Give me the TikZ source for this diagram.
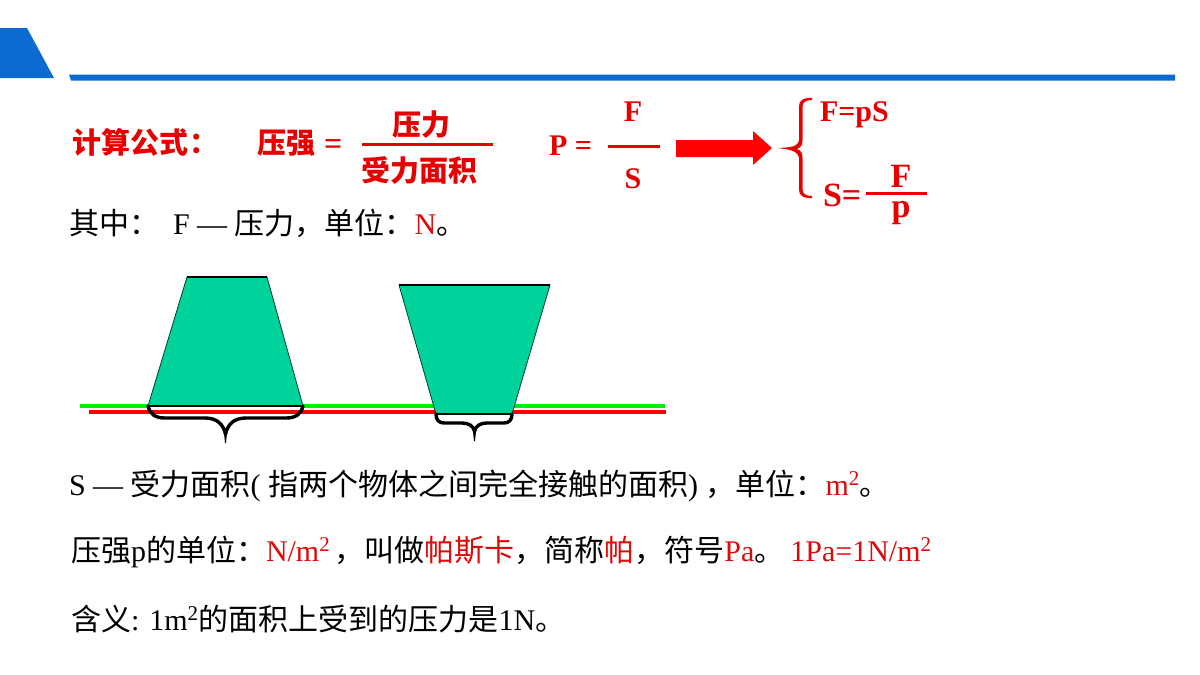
\documentclass[tikz,border=0pt]{standalone}
\usepackage{fontspec}
\setmainfont{Liberation Serif}
\newfontfamily\cjk{Noto Sans CJK SC}
\newcommand{\C}[1]{{\cjk #1}}
\newcommand{\R}[1]{\textcolor{redtxt}{#1}}
\definecolor{bluebar}{HTML}{0B6BD0}
\definecolor{redtxt}{HTML}{DD0A0A}
\definecolor{redbold}{HTML}{E60000}
\definecolor{solid}{HTML}{00D29B}
\definecolor{groundgreen}{HTML}{00F000}
\tikzset{
  x=1pt,y=-1pt,
  body/.style={anchor=base west,inner sep=0pt,outer sep=0pt,font=\fontsize{30}{30}\selectfont,text=black},
  head/.style={anchor=base west,inner sep=0pt,outer sep=0pt,font=\fontsize{29}{29}\selectfont\bfseries,text=redbold},
  sym/.style={anchor=base,inner sep=0pt,outer sep=0pt,font=\fontsize{30}{30}\selectfont\bfseries,text=redbold},
  bigsym/.style={sym,font=\fontsize{34}{34}\selectfont\bfseries},
  barline/.style={draw=redbold,line width=3pt},
  ground/.style={line width=4.5pt},
  blockshape/.style={fill=solid,draw=black!70!solid,line width=0.8pt},
  curly/.style={draw=black,line width=3.4pt,line cap=round,line join=round}
}
\begin{document}
\begin{tikzpicture}
\useasboundingbox (0,0) rectangle (1200,675);
\fill[white] (0,0) rectangle (1200,675);
% header
\fill[bluebar] (0,28) -- (27,28) -- (54,78) -- (0,78) -- cycle;
\fill[bluebar] (69,74.5) -- (1175,74.5) -- (1175,80.5) -- (71,80.5) -- cycle;
% formula line
\node[head] (title) at (72,153) {\C{\bfseries 计算公式}\hspace{2pt}\C{\bfseries ：}};
\node[head] (ya) at (257,153) {\C{\bfseries 压强}};
\node[head,font=\fontsize{32}{32}\selectfont\bfseries] (eqa) at (324,154) {=};
\node[head] (fa) at (392,135) {\C{\bfseries 压力}};
\coordinate (fracAl) at (362,144);
\coordinate (fracAr) at (493,144);
\draw[barline] (fracAl) -- (fracAr);
\node[head] (fb) at (361,181) {\C{\bfseries 受力面积}};
\node[sym,anchor=base west] (pp) at (549,155) {P =};
\node[sym] (pf) at (633,121) {F};
\coordinate (fracBl) at (608,146);
\coordinate (fracBr) at (660,146);
\draw[barline] (fracBl) -- (fracBr);
\node[sym] (ps) at (633,188) {S};
% big arrow
\fill[red] (676,140) -- (753,140) -- (753,131) -- (772,148) -- (753,165) -- (753,157) -- (676,157) -- cycle;
% right brace
\coordinate (brTip) at (778,148);
\coordinate (brTop) at (812,98);
\coordinate (brBot) at (812,198);
\fill[redbold] (brTip) .. controls (790,147.5) and (798,147) .. (799,140) -- (799,106)
  .. controls (799,100) and (804,97.5) .. (brTop) -- (812,100)
  .. controls (806,100) and (802.5,102) .. (802.5,107) -- (802.5,140)
  .. controls (802.5,145) and (801,147.5) .. (797,149)
  .. controls (801,150.5) and (802.5,153) .. (802.5,158) -- (802.5,189)
  .. controls (802.5,194) and (806,196) .. (812,196) -- (brBot)
  .. controls (804,198.5) and (799,196) .. (799,190) -- (799,158)
  .. controls (798,151) and (790,149.5) .. (brTip) -- cycle;
\node[sym,anchor=base west] (fps) at (820,121) {F=pS};
\node[bigsym,anchor=base west] (seq) at (823,206) {S=};
\node[bigsym] (sf) at (901,187) {F};
\coordinate (fracCl) at (866,193.5);
\coordinate (fracCr) at (927,193.5);
\draw[barline] (fracCl) -- (fracCr);
\node[bigsym] (sp) at (901,217) {p};
% text 1
\node[body] (l1) at (69,234) {\C{其中：}};
\node[body] (l1b) at (173,234) {F — \C{压力，单位：}\R{N}\C{。}};
% ground lines
\coordinate (gl) at (80,406);
\coordinate (gr) at (665,406);
\coordinate (rl) at (89,412);
\coordinate (rr) at (666,412);
\draw[ground,draw=groundgreen] (gl) -- (gr);
\draw[ground,draw=red] (rl) -- (rr);
% blocks
\coordinate (a1) at (187,277);
\coordinate (a2) at (267,277);
\coordinate (a3) at (303,406);
\coordinate (a4) at (148,406);
\coordinate (b1) at (399,285);
\coordinate (b2) at (550,285);
\coordinate (b3) at (512,414);
\coordinate (b4) at (436,414);
\fill[white] (a4) rectangle (303,410);
\fill[white] (b4) rectangle (512,423);
\draw[blockshape] (a1) -- (a2) -- (a3) -- (a4) -- cycle;
\draw[blockshape] (b1) -- (b2) -- (b3) -- (b4) -- cycle;
\draw[black,line width=2pt] (a1) -- (a2);
\draw[black,line width=2pt] (b1) -- (b2);
\draw[black,line width=1.6pt] (a4) -- (a3);
\draw[black,line width=1.2pt] (b4) -- (b3);
% under-braces
\draw[curly] (a4) .. controls (150,414) and (155,418) .. (165,418) -- (205,418)
  .. controls (217,418) and (223,424) .. (225.5,434);
\draw[curly] (a3) .. controls (301,414) and (296,418) .. (286,418) -- (246,418)
  .. controls (234,418) and (228,424) .. (225.5,434);
\fill[black] (223.5,428) -- (227.5,428) -- (226,443) -- (225,443) -- cycle;
\draw[curly] (b4) .. controls (436,420) and (439,423) .. (444,423) -- (462,423)
  .. controls (469,423) and (473,426) .. (474.5,431);
\draw[curly] (b3) .. controls (512,420) and (509,423) .. (504,423) -- (487,423)
  .. controls (480,423) and (476,426) .. (474.5,431);
\fill[black] (472.5,427) -- (476.5,427) -- (475,441) -- (474,441) -- cycle;
% text lines
\node[body] (l2) at (69,495) {S — \C{受力面积}( \C{指两个物体之间完全接触的面积}) \C{，单位：}\R{m\textsuperscript{2}}\C{。}};
\node[body] (l3) at (71,561) {\C{压强}p\C{的单位：}\R{N/m\textsuperscript{2}}\hspace{4pt}\C{，叫做}\R{\C{帕斯卡}}\C{，简称}\R{\C{帕}}\C{，符号}\R{Pa}\C{。}\hspace{6pt}\R{1Pa=1N/m\textsuperscript{2}}};
\node[body] (l4) at (71,630) {\C{含义}: 1m\textsuperscript{2}\C{的面积上受到的压力是}1N\C{。}};
\end{tikzpicture}
\end{document}
